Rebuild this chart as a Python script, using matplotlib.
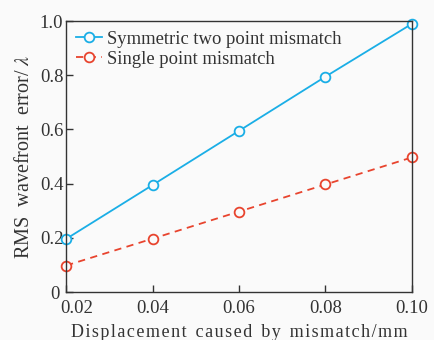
import matplotlib
matplotlib.use("Agg")
from matplotlib import pyplot as plt
from matplotlib import transforms

# data
displacement = [0.02, 0.04, 0.06, 0.08, 0.10]
rms_two_point = [0.196, 0.395, 0.595, 0.795, 0.99]
rms_single = [0.098, 0.197, 0.297, 0.397, 0.497]
x_ticks = [0.02, 0.04, 0.06, 0.08, 0.10]
x_tick_labels = ["0.02", "0.04", "0.06", "0.08", "0.10"]
y_ticks = [0, 0.2, 0.4, 0.6, 0.8, 1.0]
y_tick_labels = ["0", "0.2", "0.4", "0.6", "0.8", "1.0"]

plt.rcParams["font.family"] = ["Liberation Serif", "DejaVu Serif"]
plt.rcParams["mathtext.fontset"] = "stix"

fig = plt.figure(figsize=(4.35, 3.4), dpi=100, facecolor="#fafafa")
ax = fig.add_axes([0.152, 0.141, 0.795, 0.797], facecolor="#fafafa")

blue = "#1aaee6"
red = "#e8442e"
ax.plot(displacement, rms_two_point, "-o", color=blue, lw=1.3, ms=7,
        mfc="#fafafa", mew=1.3, label="Symmetric two point mismatch", clip_on=False)
ax.plot(displacement, rms_single, "--o", color=red, lw=1.3, ms=7,
        mfc="#fafafa", mew=1.3, dashes=(4, 3), label="Single point mismatch", clip_on=False)

ax.set_xlim(0.02, 0.10)
ax.set_ylim(0, 1.0)
ax.set_xticks(x_ticks)
ax.set_xticklabels(x_tick_labels)
ax.set_yticks(y_ticks)
ax.set_yticklabels(y_tick_labels)
ax.tick_params(direction="in", length=5, width=1, labelsize=13.5, colors="#333333",
               labelcolor="#333333")
ax.tick_params(axis="x", pad=6)
ax.tick_params(axis="y", pad=2)
for side in ax.spines.values():
    side.set_color("#333333")
    side.set_linewidth(1.0)

# first x tick label sits right of its tick, "0" pushed a little left, like the original
lab0 = ax.get_xticklabels()[0]
lab0.set_transform(lab0.get_transform() + transforms.ScaledTranslation(11 / 100, 0, fig.dpi_scale_trans))
lab0y = ax.get_yticklabels()[0]
lab0y.set_transform(lab0y.get_transform() + transforms.ScaledTranslation(-4 / 100, 0, fig.dpi_scale_trans))

xlab = "D i s p l a c e m e n t   c a u s e d   b y   m i s m a t c h / m m"
xlab = xlab.replace("   ", "\u00a0\u00a0").replace(" ", "\u200a").replace("\u00a0\u00a0", "  ")
ax.set_xlabel(xlab, fontsize=13, color="#333333", labelpad=5)
ax.set_ylabel(r"RMS  wavefront  error/ $\lambda$", fontsize=14.5, color="#333333", labelpad=4)

ax.legend(loc="upper left", frameon=False, fontsize=13.4, handlelength=1.4,
          handletextpad=0.3, borderaxespad=0.2, labelspacing=0.15,
          bbox_to_anchor=(-0.005, 1.005), labelcolor="#333333")

fig.savefig("out.png", dpi=100, facecolor=fig.get_facecolor())
